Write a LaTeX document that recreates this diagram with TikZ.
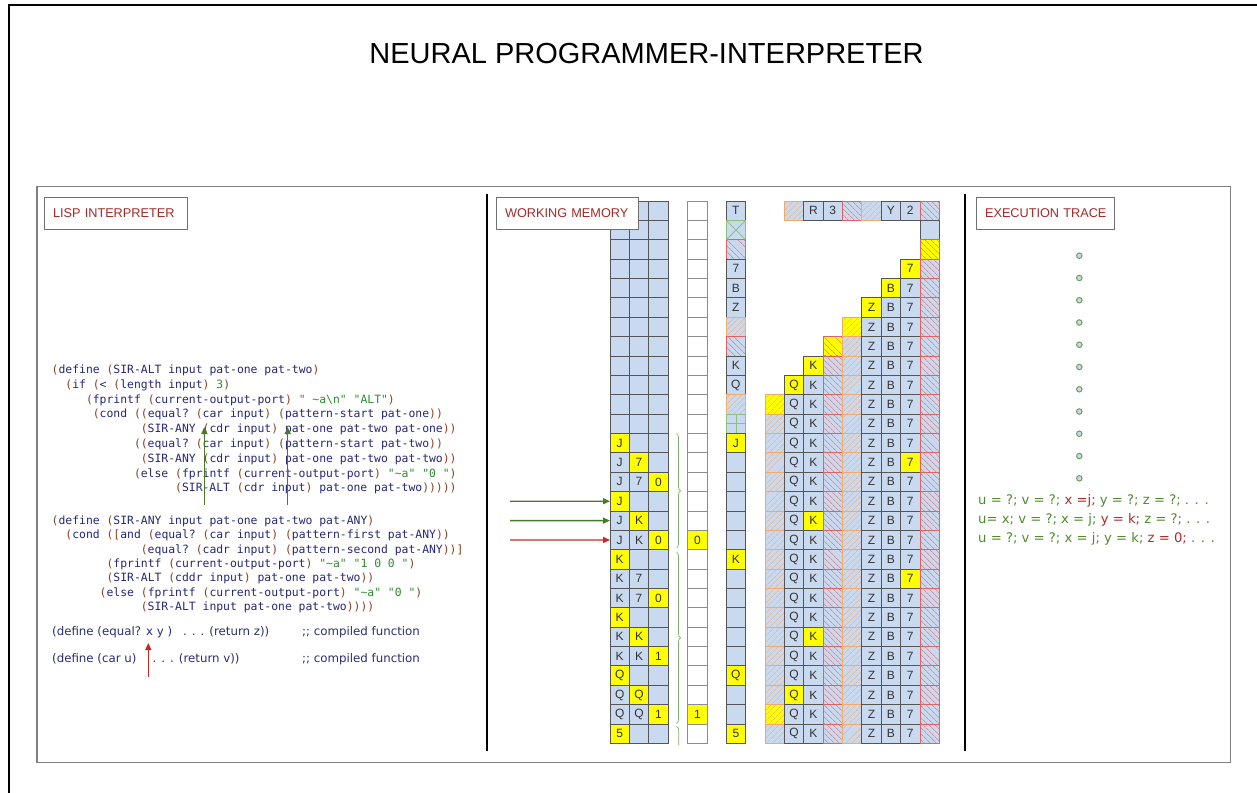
\documentclass[tikz,border=0pt]{standalone}
\usepackage{fontspec}
\setmainfont{Liberation Sans}
\setmonofont{DejaVu Sans Mono}
\newfontfamily\vfont{DejaVu Sans}
\usetikzlibrary{patterns.meta,decorations.pathreplacing,arrows.meta}

\definecolor{cellblue}{HTML}{C9DAF0}
\definecolor{cellline}{HTML}{555555}
\definecolor{hatchO}{HTML}{F0AA6E}
\definecolor{hatchR}{HTML}{DC6464}
\definecolor{gridgreen}{HTML}{8CC07C}
\definecolor{hiyellow}{HTML}{FFFF00}
\definecolor{labelred}{HTML}{A32A2A}
\definecolor{boxline}{HTML}{707070}
\definecolor{framegray}{HTML}{808080}
\definecolor{parcol}{HTML}{8A3F22}
\definecolor{idcol}{HTML}{262673}
\definecolor{strcol}{HTML}{2E8B2E}
\definecolor{notecol}{HTML}{2C2E6C}
\definecolor{trgreen}{HTML}{4F8A2E}
\definecolor{trred}{HTML}{B02A2A}
\definecolor{arrgreen}{HTML}{4A7A28}
\definecolor{arrred}{HTML}{C62828}
\definecolor{bracegreen}{HTML}{7FAF6A}
\definecolor{dotline}{HTML}{6E9E58}

% syntax colouring for the Lisp listing
\newcommand\kp[1]{\textcolor{parcol}{#1}}
\newcommand\kq[1]{\textcolor{strcol}{#1}}

\tikzset{
  cell/.style={draw=cellline, fill=cellblue, line width=0.8pt,
    minimum width=19.37pt, minimum height=19.37pt, inner sep=0pt, outer sep=0pt,
    font=\fontsize{12}{12}\selectfont, text=black!80},
  pl/.style={},
  hl/.style={fill=hiyellow},
  hO/.style={draw=hatchO, postaction={pattern={Lines[angle=45,distance=4pt,line width=0.6pt]}, pattern color=hatchO}},
  hR/.style={draw=hatchR, postaction={pattern={Lines[angle=-45,distance=4pt,line width=0.6pt]}, pattern color=hatchR}},
  gX/.style={draw=gridgreen},
  gP/.style={draw=gridgreen},
  wcell/.style={cell, fill=white, draw=black!45},
  code/.style={anchor=base west, inner sep=0pt, font=\ttfamily\fontsize{11.4}{14}\selectfont, text=idcol},
  note/.style={anchor=base west, inner sep=0pt, font=\vfont\fontsize{11.8}{14}\selectfont, text=notecol},
  trace/.style={anchor=base west, inner sep=0pt, font=\vfont\fontsize{13.2}{15}\selectfont},
  labelbox/.style={draw=boxline, line width=1.1pt, fill=white, anchor=north west,
    minimum height=32pt, inner xsep=8.5pt, inner ysep=0pt, align=left,
    text=labelred, font=\fontsize{12.7}{14}\selectfont},
  dot/.style={circle, minimum size=5.5pt, inner sep=0pt, fill=cellblue, draw=dotline, line width=1pt},
  arrG/.style={draw=arrgreen, line width=1.4pt, -{Triangle[length=7pt,width=6pt]}},
  arrR/.style={draw=arrred, line width=1.4pt, -{Triangle[length=7pt,width=6pt]}},
  brc/.style={draw=bracegreen, line width=0.7pt, decorate, decoration={brace, amplitude=4pt}},
}

\begin{document}
\begin{tikzpicture}[x=1pt,y=-1pt]
\useasboundingbox (0,0) rectangle (1257,792);

% page frame and panel frame
\draw[line width=2pt] (8.5,800) -- (8.5,5) -- (1265,5);
\draw[framegray, line width=1.2pt] (37,186.5) rectangle (1230.5,762.5);
\draw[line width=2pt] (486.5,194) -- (486.5,751);
\draw[line width=2pt] (964.5,194) -- (964.5,751);

\node[font=\fontsize{29}{30}\selectfont] (title) at (646.5,53.5) {NEURAL PROGRAMMER-INTERPRETER};

% ---------------- Lisp interpreter ----------------
\node[labelbox, text width=126pt] (lisp) at (44,197) {\mbox{LISP INTERPRETER}};

\def\cx{51.5}\def\cw{6.86}
\node[code] (s1) at ({\cx+0*\cw},373.5) {\kp{(}define \kp{(}SIR-ALT input pat-one pat-two\kp{)}};
\node[code] (s2) at ({\cx+2*\cw},388.3) {\kp{(}if \kp{(}< \kp{(}length input\kp{)} \kq{3}\kp{)}};
\node[code] (s3) at ({\cx+5*\cw},403.1) {\kp{(}fprintf \kp{(}current-output-port\kp{)} \kq{" \textasciitilde a\textbackslash n"} \kq{"ALT"}\kp{)}};
\node[code] (s4) at ({\cx+6*\cw},417.9) {\kp{(}cond \kp{((}equal? \kp{(}car input\kp{)} \kp{(}pattern-start pat-one\kp{))}};
\node[code] (s5) at ({\cx+13*\cw},432.7) {\kp{(}SIR-ANY \kp{(}cdr input\kp{)} pat-one pat-two pat-one\kp{))}};
\node[code] (s6) at ({\cx+12*\cw},447.5) {\kp{((}equal? \kp{(}car input\kp{)} \kp{(}pattern-start pat-two\kp{))}};
\node[code] (s7) at ({\cx+13*\cw},462.3) {\kp{(}SIR-ANY \kp{(}cdr input\kp{)} pat-one pat-two pat-two\kp{))}};
\node[code] (s8) at ({\cx+12*\cw},477.1) {\kp{(}else \kp{(}fprintf \kp{(}current-output-port\kp{)} \kq{"\textasciitilde a"} \kq{"0 "}\kp{)}};
\node[code] (s9) at ({\cx+18*\cw},491.9) {\kp{(}SIR-ALT \kp{(}cdr input\kp{)} pat-one pat-two\kp{)))))}};

\node[code] (m1) at ({\cx+0*\cw},524.5) {\kp{(}define \kp{(}SIR-ANY input pat-one pat-two pat-ANY\kp{)}};
\node[code] (m2) at ({\cx+2*\cw},538.8) {\kp{(}cond \kp{([}and \kp{(}equal? \kp{(}car input\kp{)} \kp{(}pattern-first pat-ANY\kp{))}};
\node[code] (m3) at ({\cx+13*\cw},553.1) {\kp{(}equal? \kp{(}cadr input\kp{)} \kp{(}pattern-second pat-ANY\kp{))]}};
\node[code] (m4) at ({\cx+8*\cw},567.4) {\kp{(}fprintf \kp{(}current-output-port\kp{)} \kq{"\textasciitilde a"} \kq{"1 0 0 "}\kp{)}};
\node[code] (m5) at ({\cx+8*\cw},581.7) {\kp{(}SIR-ALT \kp{(}cddr input\kp{)} pat-one pat-two\kp{))}};
\node[code] (m6) at ({\cx+7*\cw},596) {\kp{(}else \kp{(}fprintf \kp{(}current-output-port\kp{)} \kq{"\textasciitilde a"} \kq{"0 "}\kp{)}};
\node[code] (m7) at ({\cx+13*\cw},610.3) {\kp{(}SIR-ALT input pat-one pat-two\kp{))))}};

\node[note] (n1a) at (52,635) {(define (equal? x y )};
\node[note] (n1b) at (183,635) {. . .  (return z))};
\node[note] (n1c) at (302,635) {;; compiled function};
\node[note] (n2a) at (52,662) {(define (car u)};
\node[note] (n2b) at (152.5,662) {. . .  (return v))};
\node[note] (n2c) at (302,662) {;; compiled function};

\coordinate (ua1) at (204.3,505); \coordinate (ua1t) at (204.3,427);
\coordinate (ua2) at (287.7,505); \coordinate (ua2t) at (287.7,427);
\coordinate (ub1) at (148.3,677); \coordinate (ub1t) at (148.3,643);
\draw[arrG] (ua1) -- (ua1t);
\draw[arrG] (ua2) -- (ua2t);
\draw[arrR] (ub1) -- (ub1t);

% ---------------- working memory ----------------
% three-column scratch grid
\foreach \ri in {0,...,11}{
  \foreach \ci in {0,1,2}{
    \node[cell] (a-\ri-\ci) at ({619.685+19.37*\ci},{210.685+19.37*\ri}) {};
  }
}
\foreach \ri/\ta/\tb/\tc/\hi in {12/J/{}/{}/0, 13/J/7/{}/1, 14/J/7/0/2, 15/J/{}/{}/0,
    16/J/K/{}/1, 17/J/K/0/2, 18/K/{}/{}/0, 19/K/7/{}/9, 20/K/7/0/2, 21/K/{}/{}/0,
    22/K/K/{}/1, 23/K/K/1/2, 24/Q/{}/{}/0, 25/Q/Q/{}/1, 26/Q/Q/1/2, 27/5/{}/{}/0}{
  \foreach \ci/\tx in {0/\ta,1/\tb,2/\tc}{
    \ifnum\ci=\hi\relax\def\yl{hl}\else\def\yl{pl}\fi
    \node[cell,\yl] (a-\ri-\ci) at ({619.685+19.37*\ci},{210.685+19.37*\ri}) {\tx};
  }
}

% output column
\foreach \ri in {0,...,27}{
  \ifnum\ri=17 \def\tx{0}\def\yl{hl}\else
    \ifnum\ri=26 \def\tx{1}\def\yl{hl}\else\def\tx{}\def\yl{pl}\fi\fi
  \node[wcell,\yl] (w-\ri) at (697.4,{210.685+19.37*\ri}) {\tx};
}

% braces grouping the scratch rows
\draw[brc] (676.5,433.5) -- (676.5,548);
\draw[brc] (676.5,552) -- (676.5,723.5);
\draw[draw=bracegreen, line width=0.7pt] (676.5,726.5) .. controls (678.5,727) and (678.8,728.5) .. (678.8,731) -- (678.8,745);

% register column
\foreach \ri/\st/\tx in {0/pl/T, 1/gX/{}, 2/hR/{}, 3/pl/7, 4/pl/B, 5/pl/Z, 6/hO/{}, 7/hR/{},
    8/pl/K, 9/pl/Q, 10/hO/{}, 11/gP/{}, 12/hl/J, 13/pl/{}, 14/pl/{}, 15/pl/{}, 16/pl/{},
    17/pl/{}, 18/hl/K, 19/pl/{}, 20/pl/{}, 21/pl/{}, 22/pl/{}, 23/pl/{}, 24/hl/Q,
    25/pl/{}, 26/pl/{}, 27/hl/5}{
  \node[cell,\st] (t-\ri) at (735.9,{210.685+19.37*\ri}) {\tx};
}
\draw[gridgreen, line width=0.8pt] (t-1.north west) -- (t-1.south east) (t-1.north east) -- (t-1.south west);
\draw[gridgreen, line width=0.8pt] (t-11.north) -- (t-11.south) (t-11.west) -- (t-11.east);

% stack grid
\foreach \ci/\st/\tx in {1/hO/{}, 2/pl/R, 3/pl/3, 4/hR/{}, 5/hO/{}, 6/pl/Y, 7/pl/2, 8/hR/{}}{
  \node[cell,\st] (b-0-\ci) at ({774.685+19.37*\ci},210.685) {\tx};
}
\node[cell] (b-1-8) at ({774.685+19.37*8},{210.685+19.37}) {};
\foreach \ri/\hi in {2/8, 3/7, 4/6, 5/5, 6/4, 7/3, 8/2, 9/1, 10/0, 11/-1, 12/-1, 13/7,
    14/-1, 15/-1, 16/2, 17/-1, 18/-1, 19/7, 20/-1, 21/-1, 22/2, 23/-1, 24/-1, 25/1, 26/0, 27/-1}{
  \pgfmathtruncatemacro\si{max(0,10-\ri)}
  \foreach \ci in {\si,...,8}{
    \edef\st{\ifcase\ci hO\or pl\or pl\or hR\or hO\or pl\or pl\or pl\or hR\fi}
    \ifnum\ci=\hi\relax\def\yl{hl}\else\def\yl{pl}\fi
    \node[cell,\st,\yl] (b-\ri-\ci) at ({774.685+19.37*\ci},{210.685+19.37*\ri})
      {\ifcase\ci\or Q\or K\or\or\or Z\or B\or 7\or\fi};
  }
}

\node[labelbox, text width=125pt] (wm) at (496,197) {\mbox{WORKING MEMORY}};

% pointers into the scratch grid
\coordinate (p1) at (510,501.2);
\coordinate (p2) at (510,520.6);
\coordinate (p3) at (510,540);
\draw[arrG] (p1) -- (a-15-0.west);
\draw[arrG] (p2) -- (a-16-0.west);
\draw[arrR] (p3) -- (a-17-0.west);

% ---------------- execution trace ----------------
\node[labelbox, text width=121pt] (et) at (976,197) {\mbox{EXECUTION TRACE}};
\foreach \i in {0,...,10}{
  \node[dot] (d\i) at (1079.3,{255.7+22.26*\i}) {};
}
\node[trace] (tr1) at (978,504.5) {{\color{trgreen}u = ?; v = ?;} {\color{trred}x =j;} {\color{trgreen}y = ?; z = ?; . . .}};
\node[trace] (tr2) at (978,523.5) {{\color{trgreen}u= x; v = ?; x = j;} {\color{trred}y = k;} {\color{trgreen}z = ?; . . .}};
\node[trace] (tr3) at (978,542.5) {{\color{trgreen}u = ?; v = ?; x = j; y = k;} {\color{trred}z = 0;} {\color{trgreen}. . .}};
\end{tikzpicture}
\end{document}
